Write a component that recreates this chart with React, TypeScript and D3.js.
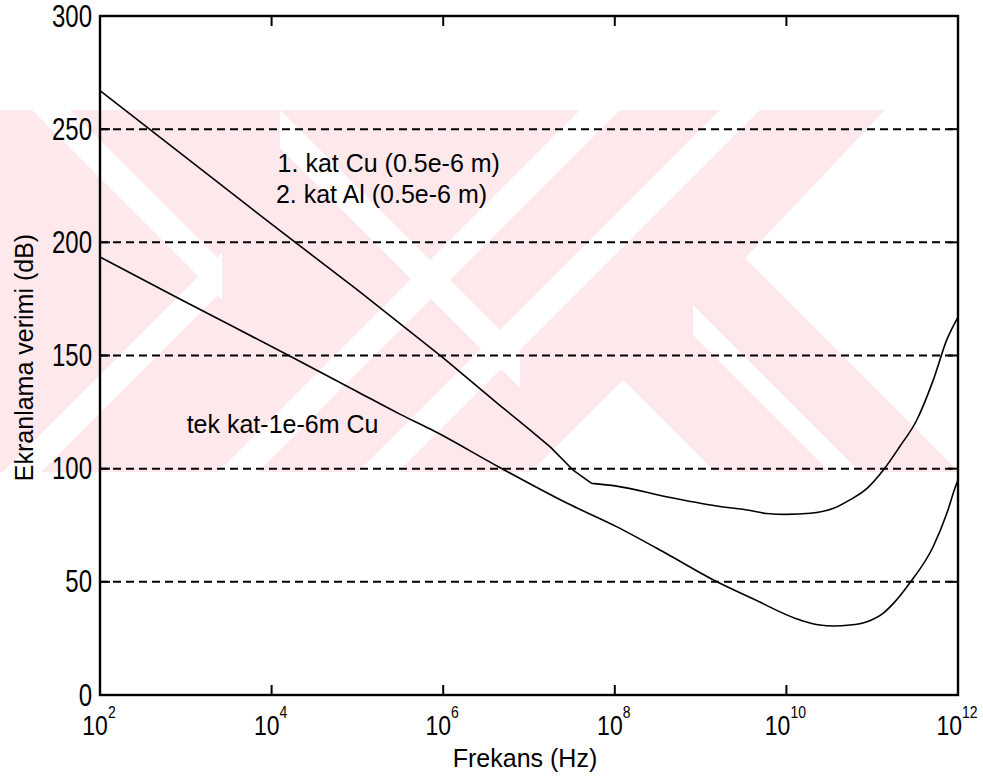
import React from "react";
import * as d3 from "d3";

// ---- data (log10 of frequency in Hz, shielding effectiveness in dB) ----
const twoLayerLogF = [2.0, 3.0, 4.0, 5.0, 6.0, 6.66, 7.0, 7.25, 7.51, 7.73, 8.02, 8.6, 9.19, 9.58, 9.77, 10.0, 10.28, 10.55, 10.74, 10.94, 11.13, 11.32, 11.52, 11.71, 11.87, 12.0];
const twoLayerDB = [267, 237.5, 208, 179, 149, 128, 117.5, 109.5, 99.5, 93.5, 92.3, 87.6, 83.5, 81.5, 80.2, 79.8, 80.3, 82.5, 86.2, 91.3, 99.4, 109.7, 121.5, 139, 157, 167];
const twoLayerKinkLogF = 7.73;

const singleLogF = [2.0, 2.93, 4.25, 5.0, 5.5, 5.85, 6.66, 7.44, 8.02, 8.6, 9.15, 9.61, 10.16, 10.39, 10.55, 10.74, 10.94, 11.13, 11.25, 11.44, 11.71, 11.87, 11.97, 12.0];
const singleDB = [193.5, 175, 149, 134, 124, 117.5, 100.5, 84.8, 74.4, 62.5, 50.8, 42.5, 33.1, 30.9, 30.5, 30.9, 32.4, 36.2, 40.6, 49.6, 65.5, 80.3, 92, 95];

const xTickExp = [2, 4, 6, 8, 10, 12];
const yTicks = [0, 50, 100, 150, 200, 250, 300];
const gridValues = [50, 100, 150, 200, 250];

const annotations = [
  { text: "1. kat Cu (0.5e-6 m)", logF: 4.07, db: 231 },
  { text: "2. kat Al (0.5e-6 m)", logF: 4.05, db: 217.4 },
  { text: "tek kat-1e-6m Cu", logF: 3.01, db: 115.9 },
];

const W = 983;
const H = 778;
const FONT = "'Liberation Sans', Arial, Helvetica, sans-serif";
const PINK = "#fde8ec";

export default function App() {
  const x = d3.scaleLog().domain([1e2, 1e12]).range([100, 958]);
  const y = d3.scaleLinear().domain([0, 300]).range([695, 16]);
  const [x0, x1] = x.range();
  const [y0, y1] = y.range();

  const mk = (curve: d3.CurveFactory) =>
    d3
      .line<[number, number]>()
      .x((d) => x(Math.pow(10, d[0])))
      .y((d) => y(d[1]))
      .curve(curve);

  const twoLayer: [number, number][] = twoLayerLogF.map((f, i) => [f, twoLayerDB[i]]);
  const single: [number, number][] = singleLogF.map((f, i) => [f, singleDB[i]]);
  const twoLayerHead = twoLayer.filter((d) => d[0] <= twoLayerKinkLogF);
  const twoLayerTail = twoLayer.filter((d) => d[0] >= twoLayerKinkLogF);
  const twoLayerPath = (mk(d3.curveLinear)(twoLayerHead) ?? "") + (mk(d3.curveMonotoneX)(twoLayerTail) ?? "");
  const singlePath = mk(d3.curveMonotoneX)(single) ?? "";

  // watermark geometry (decorative)
  const wmTop = 110;
  const wmBot = 472;
  const region = `M0,${wmTop} L885,${wmTop} L745,258 L958,471 L958,${wmBot} L0,${wmBot} Z`;
  const bandU = (a: number, b: number, xmin = -500, xmax = 1500) =>
    `M${xmin},${xmin + a} L${xmax},${xmax + a} L${xmax},${xmax + b} L${xmin},${xmin + b} Z`;
  const bandV = (a: number, b: number, xmin = -500, xmax = 1500) =>
    `M${xmin},${a - xmin} L${xmax},${a - xmax} L${xmax},${b - xmax} L${xmin},${b - xmin} Z`;

  const whiteBands = [
    bandU(40, 78, -200, 222),
    bandV(475, 513, -200, 222),
    bandU(-170, -132, 280, 520),
    bandV(690, 730, 200, 700),
    bandV(830, 870, 300, 800),
    bandU(-388, -358, 693, 1200),
    bandU(-243, 400, 623, 1200),
    bandV(1003, 2000, 300, 623),
    bandU(-500, -430, 300, 460),
  ];

  const tickText = (tx: number, ty: number, sy: number) => `translate(${tx},${ty}) scale(1,${sy})`;

  return (
    <svg
      width={W}
      height={H}
      style={{ position: "absolute", left: 0, top: 0, background: "#fff" }}
      fontFamily={FONT}
    >
      <rect x={0} y={0} width={W} height={H} fill="#fff" />
      <defs>
        <clipPath id="wm">
          <path d={region} />
        </clipPath>
      </defs>
      <g clipPath="url(#wm)">
        <rect x={0} y={wmTop} width={W} height={wmBot - wmTop} fill={PINK} />
        {whiteBands.map((d, i) => (
          <path key={i} d={d} fill="#fff" />
        ))}
      </g>

      {/* grid */}
      {gridValues.map((v) => (
        <line
          key={v}
          x1={x0}
          x2={x1}
          y1={y(v)}
          y2={y(v)}
          stroke="#000"
          strokeWidth={2}
          strokeDasharray="8 5"
        />
      ))}

      {/* curves */}
      <path d={twoLayerPath} fill="none" stroke="#000" strokeWidth={1.6} strokeLinejoin="round" />
      <path d={singlePath} fill="none" stroke="#000" strokeWidth={1.6} strokeLinejoin="round" />

      {/* frame */}
      <rect x={x0} y={y1} width={x1 - x0} height={y0 - y1} fill="none" stroke="#000" strokeWidth={2.4} />

      {/* ticks */}
      {xTickExp.map((e) => {
        const px = x(Math.pow(10, e));
        return (
          <g key={"xt" + e}>
            <line x1={px} x2={px} y1={y0} y2={y0 - 10} stroke="#000" strokeWidth={2} />
            <line x1={px} x2={px} y1={y1} y2={y1 + 10} stroke="#000" strokeWidth={2} />
            <text transform={tickText(px - 1, 735, 1.2)} textAnchor="middle" fontSize={23} fill="#000">
              10
              <tspan dy={-14.5} fontSize={14}>
                {e}
              </tspan>
            </text>
          </g>
        );
      })}
      {yTicks.map((v) => (
        <g key={"yt" + v}>
          <line x1={x0} x2={x0 + 10} y1={y(v)} y2={y(v)} stroke="#000" strokeWidth={2} />
          <line x1={x1} x2={x1 - 10} y1={y(v)} y2={y(v)} stroke="#000" strokeWidth={2} />
          <text transform={tickText(92, y(v) + 10.5, 1.27)} textAnchor="end" fontSize={24} fill="#000">
            {v}
          </text>
        </g>
      ))}

      {/* annotations */}
      {annotations.map((a) => (
        <text key={a.text} x={x(Math.pow(10, a.logF))} y={y(a.db)} fontSize={25} fill="#000">
          {a.text}
        </text>
      ))}

      {/* axis labels */}
      <text x={525} y={767} textAnchor="middle" fontSize={25} fill="#000">
        Frekans (Hz)
      </text>
      <text
        transform={`translate(33,${(y0 + y1) / 2 + 2}) rotate(-90)`}
        textAnchor="middle"
        fontSize={25}
        fill="#000"
      >
        Ekranlama verimi (dB)
      </text>
    </svg>
  );
}
